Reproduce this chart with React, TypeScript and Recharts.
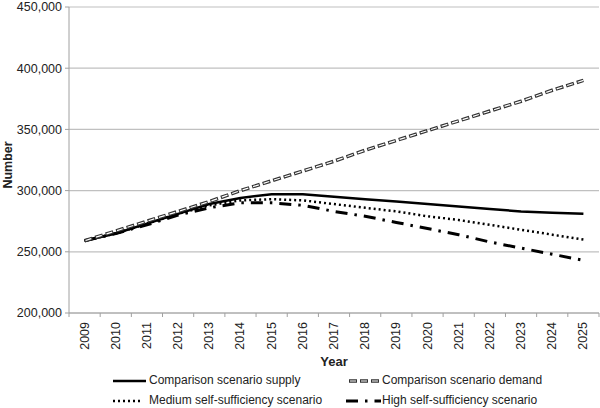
import React from 'react';
import { LineChart, Line, XAxis, YAxis, CartesianGrid, Legend } from 'recharts';

const years = ['2009', '2010', '2011', '2012', '2013', '2014', '2015', '2016', '2017', '2018', '2019', '2020', '2021', '2022', '2023', '2024', '2025'];
const supply = [259000, 265000, 273000, 281000, 289000, 294000, 297000, 297000, 295000, 293000, 291000, 289000, 287000, 285000, 283000, 282000, 281000];
const demand = [259000, 267000, 275000, 283000, 291000, 300000, 308000, 316000, 324000, 333000, 341000, 349000, 357000, 365000, 373000, 382000, 390000];
const medium = [259000, 265000, 273000, 281000, 288000, 292000, 293000, 292000, 289000, 286000, 283000, 279000, 276000, 272000, 268000, 264000, 260000];
const high = [259000, 265000, 272000, 280000, 286000, 290000, 290000, 288000, 283000, 279000, 274000, 269000, 264000, 258000, 253000, 248000, 243000];
const yTicks = [200000, 250000, 300000, 350000, 400000, 450000];

const W = 600;
const H = 408;
const M = { top: 7, right: 1, left: 0, bottom: 0 };
const Y_W = 69;
const STEP = (W - M.right - Y_W) / years.length;
const FONT = '"Liberation Sans", Arial, sans-serif';
const GRID = '#c0c0c0';
const AXIS = '#a0a0a0';

const data = years.map((year, i) => ({
  year,
  supply: supply[i],
  demand: demand[i],
  medium: medium[i],
  high: high[i],
}));

// legend entries, two columns x two rows
const legendItems = [
  { key: 'supply', name: 'Comparison scenario supply', col: 0, row: 0 },
  { key: 'demand', name: 'Comparison scenario demand', col: 1, row: 0 },
  { key: 'medium', name: 'Medium self-sufficiency scenario', col: 0, row: 1 },
  { key: 'high', name: 'High self-sufficiency scenario', col: 1, row: 1 },
];

function Sample({ k }: { k: string }) {
  if (k === 'supply') return <line x1={0} y1={5} x2={33} y2={5} stroke="#000" strokeWidth={2.5} />;
  if (k === 'demand')
    return (
      <g>
        <line x1={3} y1={5} x2={33} y2={5} stroke="#333" strokeWidth={3.5} strokeDasharray="8 3" />
        <line x1={3} y1={5} x2={33} y2={5} stroke="#fff" strokeWidth={1.2} strokeDasharray="6 5" strokeDashoffset={-1} />
      </g>
    );
  if (k === 'medium') return <line x1={0} y1={5} x2={29} y2={5} stroke="#000" strokeWidth={2.5} strokeDasharray="2 3" />;
  return <line x1={0} y1={5} x2={35} y2={5} stroke="#000" strokeWidth={3} strokeDasharray="12 7 2.5 7" />;
}

function LegendBox() {
  return (
    <div style={{ position: 'relative', width: W, height: 40, fontFamily: FONT, fontSize: 12, lineHeight: '13px', color: '#222' }}>
      {legendItems.map((it) => (
        <div
          key={it.key}
          style={{
            position: 'absolute',
            left: it.col === 0 ? 113 : 346,
            top: it.row === 0 ? 6 : 26,
            display: 'flex',
            alignItems: 'center',
            whiteSpace: 'nowrap',
          }}
        >
          <svg width={36} height={10}>
            <Sample k={it.key} />
          </svg>
          <span>{it.name}</span>
        </div>
      ))}
    </div>
  );
}

function XTick(props: any) {
  const { x, y, payload, index } = props;
  return (
    <g>
      <line x1={x - STEP / 2} y1={y} x2={x - STEP / 2} y2={y + 4} stroke={AXIS} />
      {index === years.length - 1 && <line x1={x + STEP / 2} y1={y} x2={x + STEP / 2} y2={y + 4} stroke={AXIS} />}
      <text
        x={x}
        y={y + 9}
        transform={`rotate(-90, ${x}, ${y + 9})`}
        textAnchor="end"
        dominantBaseline="central"
        fontFamily={FONT}
        fontSize={12.5}
        fill="#222"
      >
        {payload.value}
      </text>
    </g>
  );
}

function YLabel(props: any) {
  const { viewBox } = props;
  const cx = 8;
  const cy = viewBox.y + viewBox.height / 2 + 5;
  return (
    <text
      x={cx}
      y={cy}
      transform={`rotate(-90, ${cx}, ${cy})`}
      textAnchor="middle"
      dominantBaseline="central"
      fontFamily={FONT}
      fontSize={12.5}
      fontWeight="bold"
      fill="#222"
    >
      Number
    </text>
  );
}

export default function App() {
  return (
    <div style={{ position: 'absolute', left: 0, top: 0, width: W, height: H, background: '#fff' }}>
      <LineChart width={W} height={H} data={data} margin={M}>
        <CartesianGrid horizontal vertical={false} stroke={GRID} strokeWidth={1.2} />
        <XAxis
          dataKey="year"
          height={55}
          padding={{ left: STEP / 2, right: STEP / 2 }}
          tickLine={false}
          tickSize={0}
          tickMargin={0}
          interval={0}
          stroke={AXIS}
          tick={<XTick />}
          label={{ value: 'Year', position: 'insideBottom', offset: 2, fontFamily: FONT, fontSize: 13, fontWeight: 'bold', fill: '#222' }}
        />
        <YAxis
          width={Y_W}
          domain={[200000, 450000]}
          ticks={yTicks}
          interval={0}
          stroke={AXIS}
          tickSize={4}
          tickMargin={3}
          tickFormatter={(v: number) => v.toLocaleString('en-US')}
          tick={{ fontFamily: FONT, fontSize: 12.5, fill: '#222' }}
          label={<YLabel />}
        />
        <Legend verticalAlign="bottom" height={40} content={() => <LegendBox />} />
        <Line dataKey="high" stroke="#000" strokeWidth={3} strokeDasharray="12 7 2.5 7" dot={false} isAnimationActive={false} />
        <Line dataKey="medium" stroke="#000" strokeWidth={2.5} strokeDasharray="2 3" dot={false} isAnimationActive={false} />
        <Line dataKey="supply" stroke="#000" strokeWidth={2.5} dot={false} isAnimationActive={false} />
        <Line dataKey="demand" stroke="#333" strokeWidth={3.5} strokeDasharray="8 3" dot={false} isAnimationActive={false} />
        <Line dataKey="demand" stroke="#fff" strokeWidth={1.2} strokeDasharray="6 5" strokeDashoffset={-1} dot={false} legendType="none" isAnimationActive={false} />
      </LineChart>
    </div>
  );
}
